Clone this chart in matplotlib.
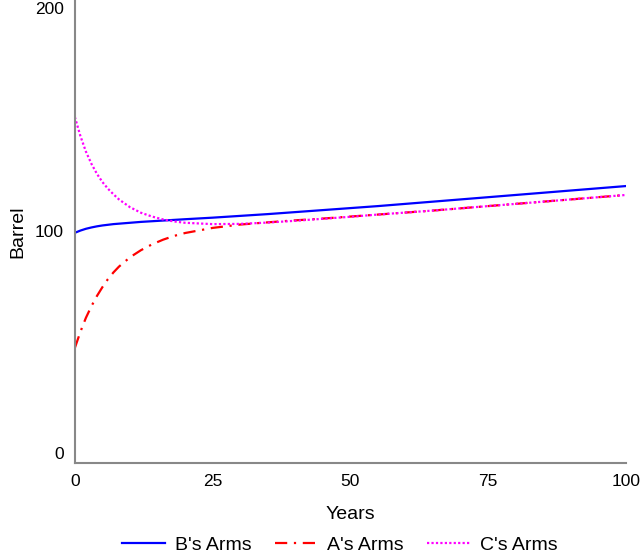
import numpy as np
import matplotlib.pyplot as plt

plt.rcParams['font.family'] = ['Liberation Sans', 'DejaVu Sans']

years = [0, 1, 2, 3, 4, 5, 6, 7, 8, 10, 12, 14, 16, 18, 20, 25, 30, 35, 40, 45,
         50, 55, 60, 65, 70, 75, 80, 85, 90, 95, 100]
b_arms = [99.0, 100.0, 100.8, 101.4, 101.9, 102.3, 102.6, 102.9, 103.1, 103.5,
          103.9, 104.2, 104.5, 104.8, 105.1, 105.8, 106.6, 107.4, 108.3, 109.2,
          110.1, 111.0, 112.0, 113.0, 114.0, 115.0, 116.0, 117.0, 118.0, 119.0, 120.0]
a_arms = [47.3, 54.5, 60.8, 66.0, 70.6, 74.6, 78.2, 81.2, 83.8, 88.0,
          91.2, 93.8, 95.9, 97.6, 98.9, 101.2, 102.7, 103.7, 104.6, 105.4,
          106.3, 107.2, 108.1, 109.0, 110.0, 111.0, 112.0, 113.0, 114.0, 115.0, 116.0]
c_arms = [151.0, 142.5, 135.5, 130.0, 125.5, 121.8, 118.8, 116.3, 114.0, 110.5,
          108.0, 106.3, 105.0, 104.1, 103.5, 102.9, 103.0, 103.6, 104.4, 105.3,
          106.2, 107.2, 108.1, 109.0, 110.0, 111.0, 112.0, 113.0, 114.0, 115.0, 116.0]

fig = plt.figure(figsize=(6.4, 5.56), dpi=100)
ax = fig.add_axes([0.117, 0.167, 0.861, 0.833])

ax.plot(years, b_arms, color='#0000ff', lw=1.6, label="B's Arms")
ax.plot(years, a_arms, color='#ff0000', lw=1.6, linestyle=(0, (5.5, 3, 1, 3)), label="A's Arms")
ax.plot(years, c_arms, color='#ff00ff', lw=1.6, linestyle=(0, (1, 1)), label="C's Arms")

ax.set_xlim(0, 100)
ax.set_ylim(-4.5, 203.6)
ax.set_xticks([0, 25, 50, 75, 100])
ax.set_yticks([0, 100, 200])
ax.tick_params(length=0, labelsize=12.5, pad=8)

for s in ['top', 'right']:
    ax.spines[s].set_visible(False)
for s in ['left', 'bottom']:
    ax.spines[s].set_color('#888888')
    ax.spines[s].set_linewidth(1.5)

ax.set_xlabel('Years', fontsize=14, labelpad=12)
ax.set_ylabel('Barrel', fontsize=14, labelpad=6)

fig.legend(loc='lower center', bbox_to_anchor=(0.531, -0.028), ncol=3, frameon=False,
           fontsize=14, handlelength=2.2, handletextpad=0.5, columnspacing=1.2)

fig.savefig('out.png', dpi=100)
